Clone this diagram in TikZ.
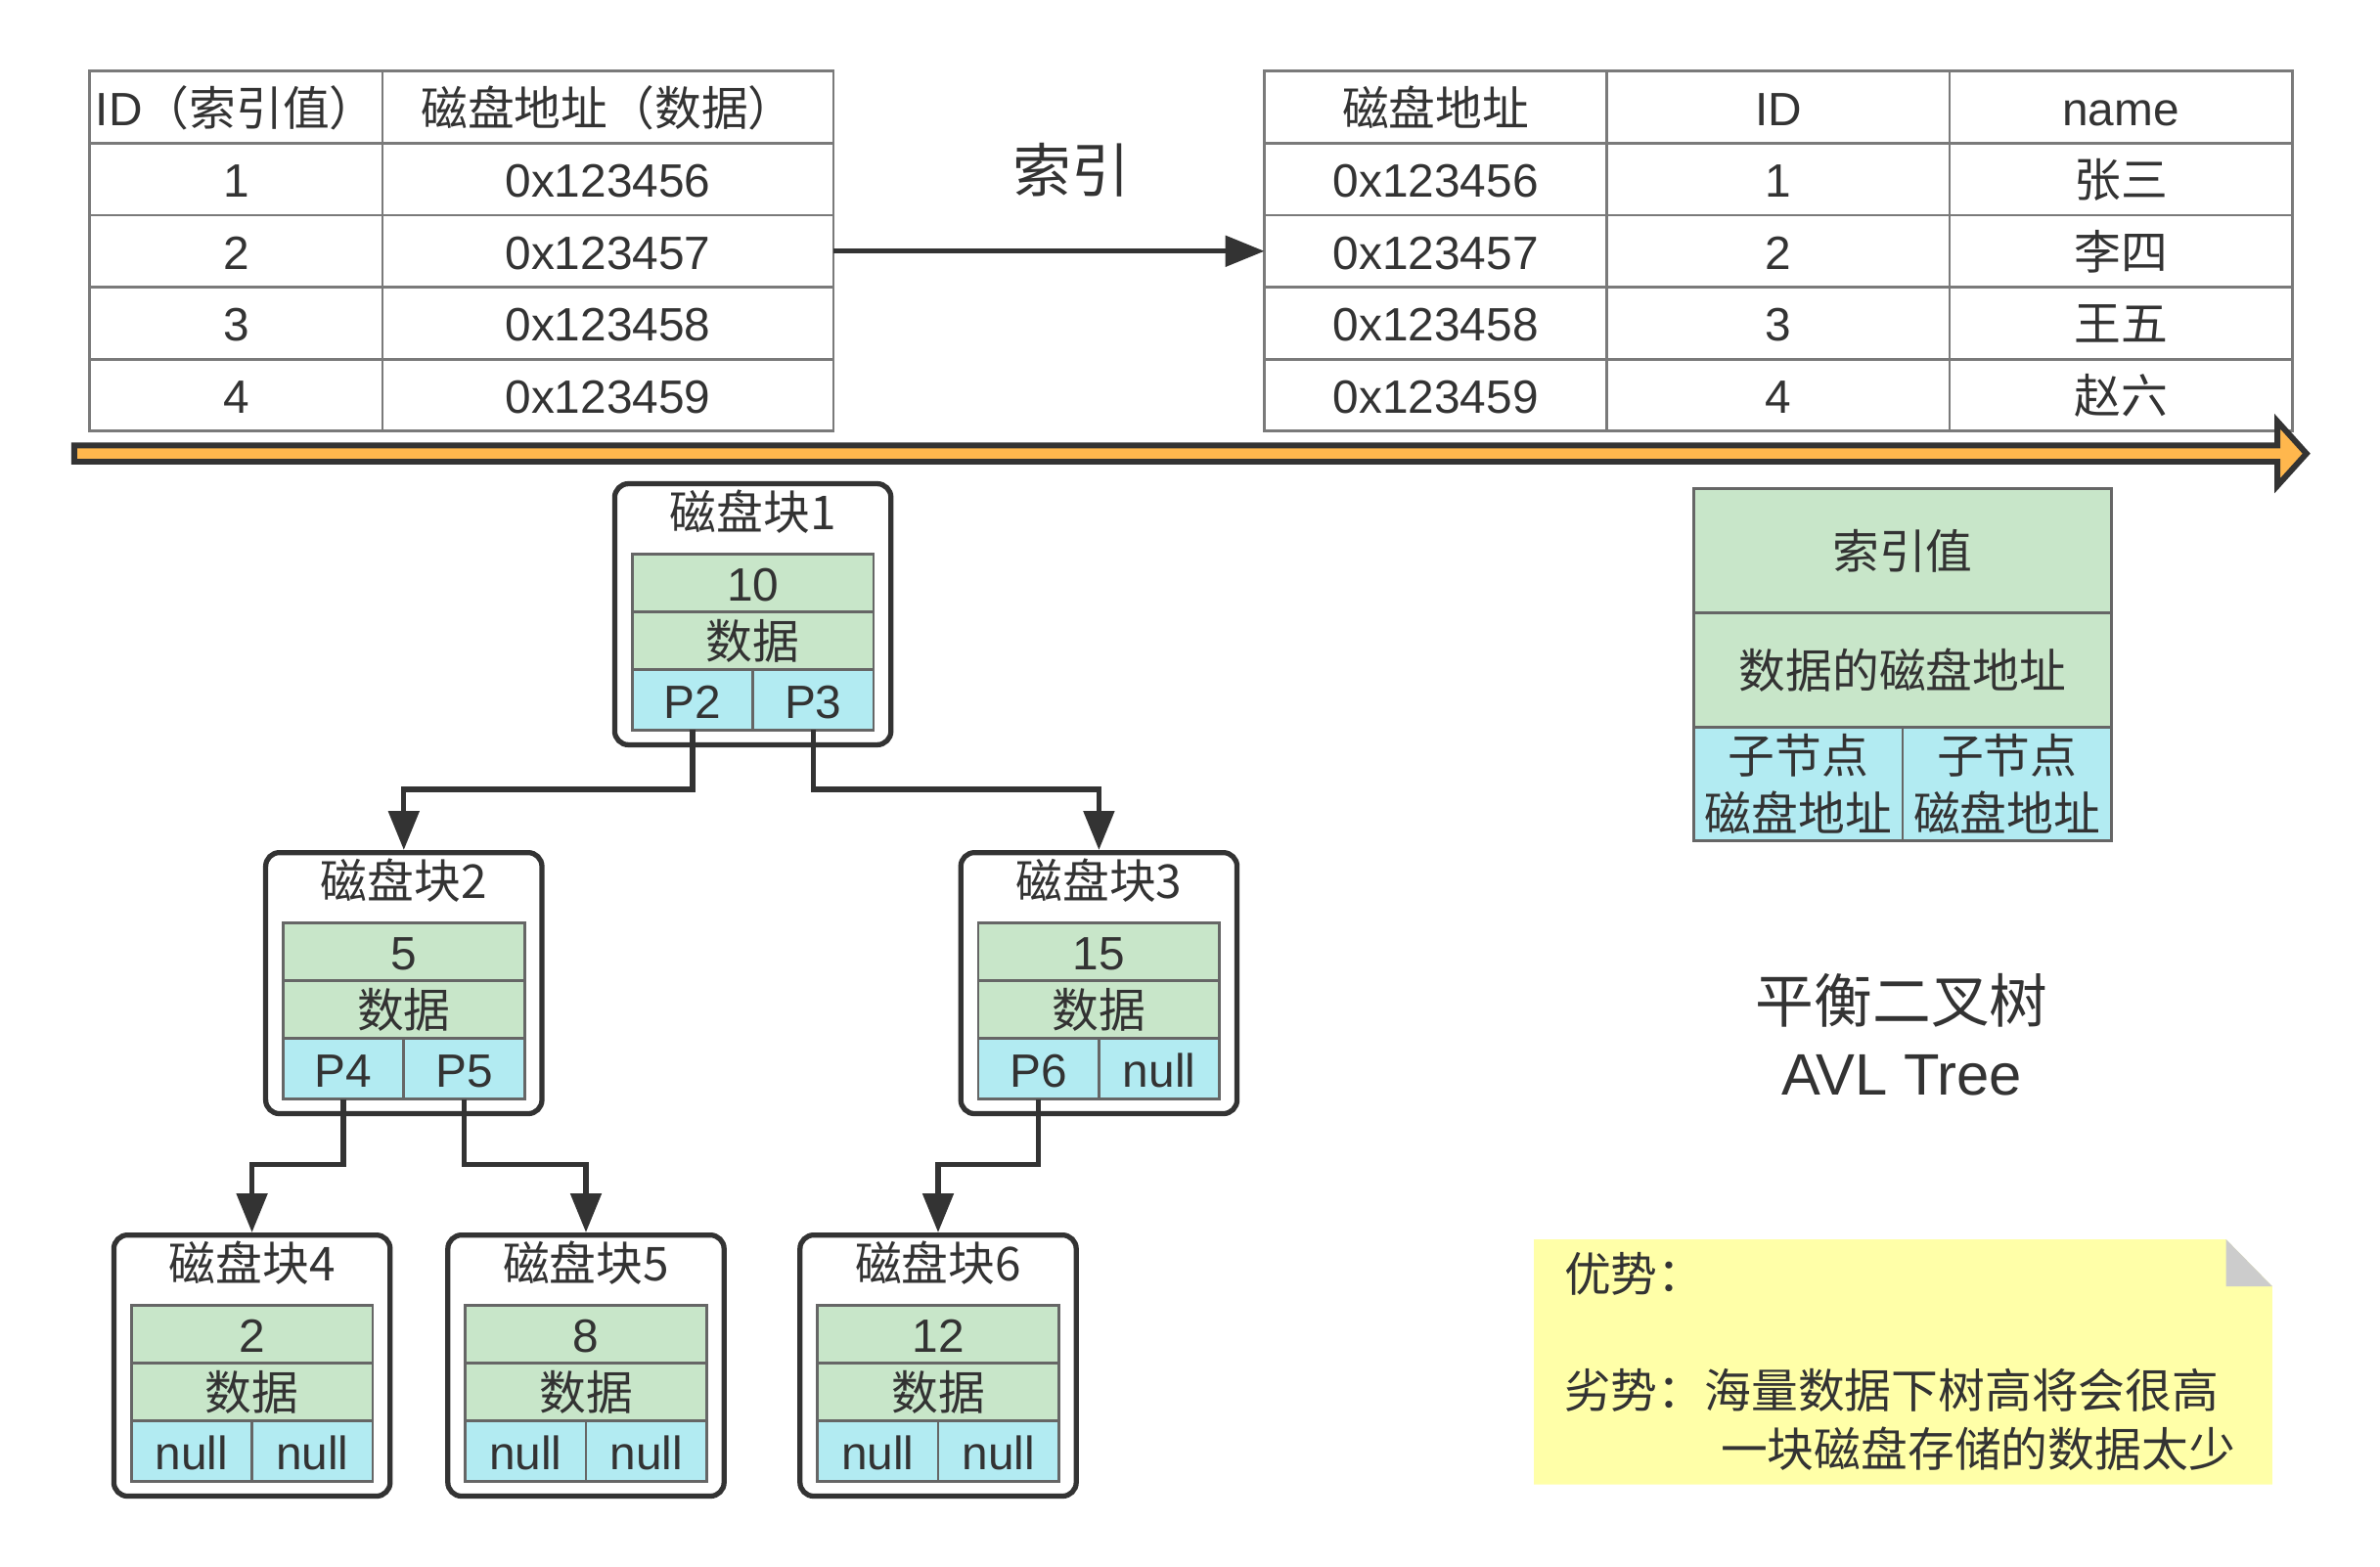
\documentclass[tikz,border=0pt]{standalone}
\usepackage{fontspec}
\setmainfont{Liberation Sans}
\newfontfamily\cjk{Noto Sans CJK SC}
\usetikzlibrary{positioning}
\usetikzlibrary{arrows.meta}
\definecolor{inkdark}{HTML}{333333}
\definecolor{tabline}{HTML}{7A7A7A}
\definecolor{cellline}{HTML}{666666}
\definecolor{keygreen}{HTML}{C8E6C9}
\definecolor{ptrblue}{HTML}{B2EBF2}
\definecolor{bandorange}{HTML}{FFB74D}
\definecolor{noteyellow}{HTML}{FFFFA8}
\definecolor{foldgray}{HTML}{CCCCCC}

\tikzset{
  tcell/.style={draw=tabline, line width=0.8pt, minimum height=0.7355cm, inner sep=0pt, outer sep=0pt,
    text height=12.6pt, text depth=2pt, anchor=north west},
  blockbox/.style={draw=inkdark, line width=1.5pt, rounded corners=4pt, fill=white,
    minimum width=2.824cm, minimum height=2.669cm, anchor=north},
  keycell/.style={draw=cellline, line width=0.8pt, fill=keygreen, minimum width=2.467cm,
    minimum height=0.59cm, inner sep=0pt, outer sep=0pt, text height=12.6pt, text depth=2pt, anchor=north},
  ptrcell/.style={draw=cellline, line width=0.8pt, fill=ptrblue, minimum width=1.2335cm,
    minimum height=0.62cm, inner sep=0pt, outer sep=0pt, text height=12.6pt, text depth=2pt},
  link/.style={draw=inkdark, line width=1.5pt, -{Triangle[length=0.4cm,width=0.31cm]}},
}

\begin{document}
\begin{tikzpicture}[font=\fontsize{13.6}{17}\selectfont, text=inkdark]
	\useasboundingbox (0,0) rectangle (24.33,-16.02);
	
	% ---- left: index table ----
	\node[tcell, minimum width=2.994cm] (ta-0-1) at (0.916,-0.729) {ID{\cjk （索引值）}};
	\node[tcell, minimum width=4.609cm] (ta-0-2) at (3.910,-0.729) {\cjk 磁盘地址（数据）};
	\foreach \id/\addr in {1/0x123456, 2/0x123457, 3/0x123458, 4/0x123459} {
		\node[tcell, minimum width=2.994cm] (ta-\id-1) at (0.916,{-0.729-\id*0.7355}) {\id};
		\node[tcell, minimum width=4.609cm] (ta-\id-2) at (3.910,{-0.729-\id*0.7355}) {\addr};
	}
	
	% ---- right: data table ----
	\node[tcell, minimum width=3.502cm] (tb-0-1) at (12.926,-0.729) {\cjk 磁盘地址};
	\node[tcell, minimum width=3.502cm] (tb-0-2) at (16.428,-0.729) {ID};
	\node[tcell, minimum width=3.502cm] (tb-0-3) at (19.930,-0.729) {name};
	\foreach \id/\addr/\nm in {1/0x123456/张三, 2/0x123457/李四, 3/0x123458/王五, 4/0x123459/赵六} {
		\node[tcell, minimum width=3.502cm] (tb-\id-1) at (12.926,{-0.729-\id*0.7355}) {\addr};
		\node[tcell, minimum width=3.502cm] (tb-\id-2) at (16.428,{-0.729-\id*0.7355}) {\id};
		\node[tcell, minimum width=3.502cm] (tb-\id-3) at (19.930,{-0.729-\id*0.7355}) {\cjk\nm};
	}
	
	\node[font=\fontsize{17}{21}\selectfont\cjk] (idxlbl) at (10.955,-1.738) {索引};
	\draw[link] (ta-2-2.east) -- (tb-2-1.west);
	
	% ---- orange band ----
	\draw[draw=inkdark, fill=bandorange, line width=1.7pt, line join=miter]
	(0.759,-4.554) -- (23.28,-4.554) -- (23.28,-4.307) -- (23.578,-4.637)
	-- (23.28,-4.967) -- (23.28,-4.720) -- (0.759,-4.720) -- cycle;
	
	% ---- disk blocks ----
	\foreach \n/\x/\y/\k/\pl/\pr in {1/7.696/-4.919/10/P2/P3, 2/4.128/-8.690/5/P4/P5,
		3/11.234/-8.690/15/P6/null, 4/2.576/-12.600/2/null/null,
		5/5.990/-12.600/8/null/null, 6/9.590/-12.600/12/null/null} {
		\node[blockbox] (B\n) at (\x,\y) {};
		\node (B\n-t) at ([yshift=-0.31cm]B\n.north) {\cjk 磁盘块\n};
		\node[keycell] (B\n-k) at ([yshift=-0.745cm]B\n.north) {\k};
		\node[keycell] (B\n-d) at (B\n-k.south) {\cjk 数据};
		\node[ptrcell, anchor=north east] (B\n-l) at (B\n-d.south) {\pl};
		\node[ptrcell, anchor=north west] (B\n-r) at (B\n-d.south) {\pr};
	}
	
	\draw[link] (B1-l.south) -- ++(0,-0.605) -| (B2.north);
	\draw[link] (B1-r.south) -- ++(0,-0.605) -| (B3.north);
	\draw[link] (B2-l.south) -- ++(0,-0.667) -| (B4.north);
	\draw[link] (B2-r.south) -- ++(0,-0.667) -| (B5.north);
	\draw[link] (B3-l.south) -- ++(0,-0.667) -| (B6.north);
	
	% ---- legend ----
	\node[keycell, minimum width=4.267cm, minimum height=1.272cm, anchor=north west]
	(LG-k) at (17.317,-4.996) {\cjk 索引值};
	\node[keycell, minimum width=4.267cm, minimum height=1.164cm] (LG-d) at (LG-k.south) {\cjk 数据的磁盘地址};
	\node[ptrcell, minimum width=2.1335cm, minimum height=1.164cm, anchor=north east, align=center,
	text height=, text depth=] (LG-l) at (LG-d.south) {{\cjk 子节点}\\{\cjk 磁盘地址}};
	\node[ptrcell, minimum width=2.1335cm, minimum height=1.164cm, anchor=north west, align=center,
	text height=, text depth=] (LG-r) at (LG-d.south) {{\cjk 子节点}\\{\cjk 磁盘地址}};
	
	\node[font=\fontsize{17}{21}\selectfont, align=center] (avl) at (19.443,-10.58)
	{{\cjk 平衡二叉树}\\AVL Tree};
	
	% ---- note ----
	\fill[noteyellow] (15.680,-12.670) -- (22.756,-12.670) -- (23.229,-13.151)
	-- (23.229,-15.176) -- (15.680,-15.176) -- cycle;
	\fill[foldgray] (22.756,-12.670) -- (23.229,-13.151) -- (22.756,-13.151) -- cycle;
	\node[align=left, anchor=north west, inner sep=0pt] (note) at (15.983,-12.794)
	{{\cjk 优势：}\\[17pt]{\cjk 劣势：海量数据下树高将会很高}\\{\cjk\hspace*{3.35em}一块磁盘存储的数据太少}};
	
\end{tikzpicture}
\end{document}
